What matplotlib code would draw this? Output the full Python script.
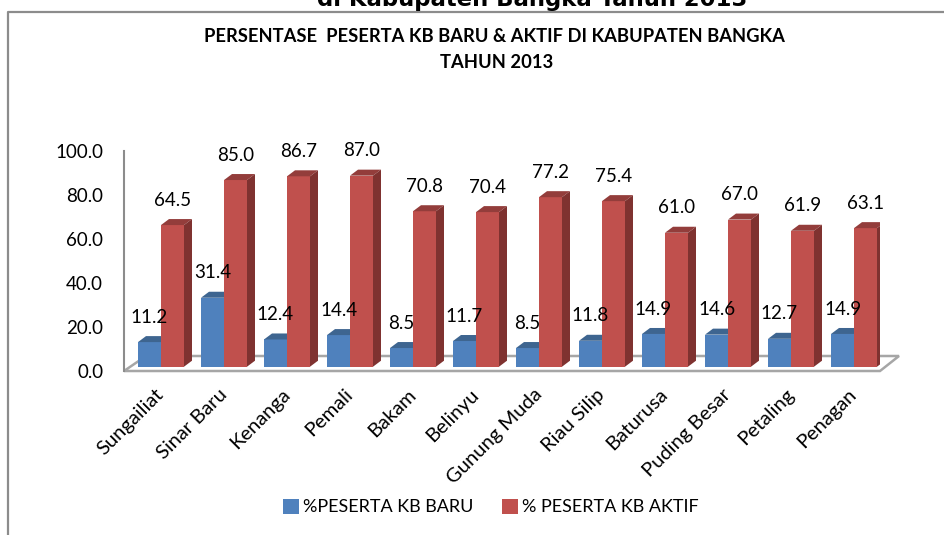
import matplotlib
matplotlib.use("Agg")
import matplotlib.pyplot as plt
from matplotlib.patches import Patch, Polygon, Rectangle

plt.rcParams['font.family'] = ['Lato', 'DejaVu Sans']

kecamatan = ['Sungailiat', 'Sinar Baru', 'Kenanga', 'Pemali', 'Bakam', 'Belinyu',
             'Gunung Muda', 'Riau Silip', 'Baturusa', 'Puding Besar', 'Petaling', 'Penagan']
kb_baru = [11.2, 31.4, 12.4, 14.4, 8.5, 11.7, 8.5, 11.8, 14.9, 14.6, 12.7, 14.9]
kb_aktif = [64.5, 85.0, 86.7, 87.0, 70.8, 70.4, 77.2, 75.4, 61.0, 67.0, 61.9, 63.1]
y_ticks = [0, 20, 40, 60, 80, 100]

W, H = 945, 535
fig = plt.figure(figsize=(W / 100, H / 100), dpi=100)


def px(x, y):
    # pixel from top left -> figure fraction
    return x / W, 1 - y / H


# outer frame, cut off by the picture on the right and bottom
fig.add_artist(plt.Line2D([8.5 / W, 8.5 / W, 1], [0, 1 - 11.5 / H, 1 - 11.5 / H], color='#8c8c8c', lw=1.6))

# floor of the 3d chart, must stay under the axes
floor = [px(124, 371), px(880, 371), px(899, 356), px(146, 356)]
fig.add_artist(Polygon(floor, closed=True, facecolor='white', edgecolor='#a6a6a6', lw=1.8,
                       transform=fig.transFigure, zorder=-1))

# axis with the value scale
ax_y = fig.add_axes([124 / W, 1 - 371 / H, 1 / W, 219.6 / H])
ax_y.set_ylim(0, 100)
ax_y.set_xticks([])
ax_y.set_yticks(y_ticks)
ax_y.set_yticklabels(['%.1f' % v for v in y_ticks], fontsize=13.5, color='black')
ax_y.tick_params(axis='y', length=0, pad=15)
for s in ['top', 'right', 'bottom']:
    ax_y.spines[s].set_visible(False)
ax_y.spines['left'].set_color('#8c8c8c')
ax_y.spines['left'].set_linewidth(1.5)
ax_y.patch.set_alpha(0)

# bars, unit of x is one category = 63 px, value 100 = 219.6 px
ax = fig.add_axes([124 / W, 1 - 366.7 / H, 756 / W, 219.6 / H])
ax.set_xlim((124 - 161) / 63, (880 - 161) / 63)
ax.set_ylim(0, 100)
ax.patch.set_alpha(0)
for s in ax.spines.values():
    s.set_visible(False)
ax.set_yticks([])

w = 23 / 63
dx = 8 / 63
dy = 6 / 2.196


def bar3d(x0, v, front, top, side, z):
    ax.add_patch(Rectangle((x0, 0), w, v, facecolor=front, edgecolor='none', zorder=z))
    ax.add_patch(Polygon([(x0, v), (x0 + w, v), (x0 + w + dx, v + dy), (x0 + dx, v + dy)],
                         facecolor=top, edgecolor='none', zorder=z))
    ax.add_patch(Polygon([(x0 + w, 0), (x0 + w + dx, dy), (x0 + w + dx, v + dy), (x0 + w, v)],
                         facecolor=side, edgecolor='none', zorder=z))


for i in range(len(kecamatan)):
    bar3d(i - w, kb_baru[i], '#4f81bd', '#3e6590', '#3a5f8a', 2)
    bar3d(i, kb_aktif[i], '#c0504d', '#933d3b', '#7f3230', 3)
    ax.text(i - w / 2, kb_baru[i] + dy + 8.6, '%.1f' % kb_baru[i], ha='center', va='center',
            fontsize=13.5, color='black', zorder=5)
    ax.text(i + w / 2, kb_aktif[i] + dy + 8.6, '%.1f' % kb_aktif[i], ha='center', va='center',
            fontsize=13.5, color='black', zorder=5)

ax.set_xticks(range(len(kecamatan)))
ax.set_xticklabels(kecamatan, rotation=45, ha='right', va='center', rotation_mode='anchor',
                   fontsize=14.5, color='black')
ax.tick_params(axis='x', length=0, pad=18)

# titles
fig.text(*px(494, 37), 'PERSENTASE  PESERTA KB BARU & AKTIF DI KABUPATEN BANGKA', ha='center', va='center',
         fontsize=13.2, fontweight='bold', color='black')
fig.text(*px(497, 63), 'TAHUN 2013', ha='center', va='center', fontsize=13.2, fontweight='bold', color='black')
fig.text(*px(532, 6), 'di Kabupaten Bangka Tahun 2013', ha='center', va='baseline',
         fontsize=16.4, fontweight='bold', color='black', family='DejaVu Sans')

handles = [Patch(facecolor='#4f81bd', label='%PESERTA KB BARU'),
           Patch(facecolor='#c0504d', label='% PESERTA KB AKTIF')]
fig.legend(handles=handles, loc='center', bbox_to_anchor=px(490.5, 507), ncol=2, frameon=False, fontsize=13,
           handlelength=0.9, handleheight=0.9, handletextpad=0.2, columnspacing=1.6)

fig.savefig('out.png', dpi=100)
